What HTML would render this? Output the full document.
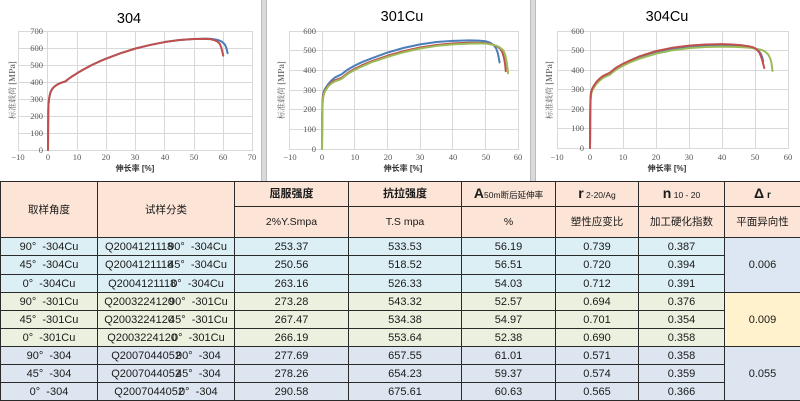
<!DOCTYPE html>
<html><head><meta charset="utf-8">
<style>
html,body{margin:0;padding:0;background:#fff;}
body{width:800px;height:401px;position:relative;overflow:hidden;font-family:"Liberation Sans","Noto Sans CJK SC",sans-serif;}
svg{position:absolute;left:0;top:0;}
table{position:absolute;left:0;top:181px;width:800px;height:220px;border-collapse:collapse;table-layout:fixed;font-size:11px;color:#1a1a1a;}
td{border:1px solid #2a2a2a;padding:0;text-align:center;vertical-align:middle;white-space:nowrap;overflow:hidden;line-height:12px;}
.h td{background:#fce4d6;font-size:10.5px;}
.g1 td{background:#dcEff5;}
.g2 td{background:#ecf1df;}
.g3 td{background:#dde6f0;}
td.d1{background:#dde7f3 !important;}
td.d2{background:#fff2cc !important;}
td.d3{background:#dde6f0 !important;}
.h td.b{font-weight:bold;font-size:11px;}
.big{font-size:14px;font-weight:bold;}
.sm{font-size:8.5px;}
.ov{margin-left:-5px;}
</style></head><body>
<svg width="800" height="181" viewBox="0 0 800 181" font-family="Liberation Serif, serif">
  <rect x="0" y="0" width="800" height="181" fill="#fff"/>
  <rect x="261" y="0" width="6" height="181" fill="#dadada"/>
  <line x1="261.5" y1="0" x2="261.5" y2="181" stroke="#bcbcbc"/>
  <line x1="266.5" y1="0" x2="266.5" y2="181" stroke="#bcbcbc"/>
  <rect x="530" y="0" width="6" height="181" fill="#dadada"/>
  <line x1="530.5" y1="0" x2="530.5" y2="181" stroke="#bcbcbc"/>
  <line x1="535.5" y1="0" x2="535.5" y2="181" stroke="#bcbcbc"/>

  <!-- Chart 1 -->
  <g stroke="#d9d9d9" stroke-width="1">
    <line x1="18.5" y1="31" x2="18.5" y2="150"/><line x1="47.5" y1="31" x2="47.5" y2="150"/>
    <line x1="77.5" y1="31" x2="77.5" y2="150"/><line x1="106.5" y1="31" x2="106.5" y2="150"/>
    <line x1="135.5" y1="31" x2="135.5" y2="150"/><line x1="164.5" y1="31" x2="164.5" y2="150"/>
    <line x1="194.5" y1="31" x2="194.5" y2="150"/><line x1="223.5" y1="31" x2="223.5" y2="150"/>
    <line x1="252.5" y1="31" x2="252.5" y2="150"/>
    <line x1="18" y1="31.5" x2="253" y2="31.5"/><line x1="18" y1="48.5" x2="253" y2="48.5"/>
    <line x1="18" y1="65.5" x2="253" y2="65.5"/><line x1="18" y1="82.5" x2="253" y2="82.5"/>
    <line x1="18" y1="99.5" x2="253" y2="99.5"/><line x1="18" y1="116.5" x2="253" y2="116.5"/>
    <line x1="18" y1="133.5" x2="253" y2="133.5"/><line x1="18" y1="150.5" x2="253" y2="150.5"/>
  </g>
  <g font-size="8.5" fill="#595959" text-anchor="end">
    <text x="43" y="34">700</text><text x="43" y="51">600</text><text x="43" y="68">500</text>
    <text x="43" y="85">400</text><text x="43" y="102">300</text><text x="43" y="119">200</text>
    <text x="43" y="136">100</text><text x="43" y="153">0</text>
  </g>
  <g font-size="8.5" fill="#595959" text-anchor="middle">
    <text x="18" y="160">−10</text><text x="48" y="160">0</text><text x="77" y="160">10</text>
    <text x="106" y="160">20</text><text x="135" y="160">30</text><text x="165" y="160">40</text>
    <text x="194" y="160">50</text><text x="223" y="160">60</text><text x="252" y="160">70</text>
  </g>
  <text x="129" y="23" font-family="Liberation Sans, sans-serif" font-size="14.5" text-anchor="middle" fill="#000">304</text>
  <text x="135" y="171" font-family="Liberation Sans, Noto Sans CJK SC, sans-serif" font-size="8" font-weight="bold" text-anchor="middle" fill="#333">伸长率 [%]</text>
  <text transform="translate(15,90) rotate(-90)" font-family="Noto Serif CJK SC, serif" font-size="8" text-anchor="middle" fill="#666">标准载荷 <tspan font-weight="bold">[MPa]</tspan></text>
  <g transform="translate(48,150) scale(2.92,-0.17)" fill="none" stroke-width="2" stroke-linejoin="round" stroke-linecap="round">
    <path vector-effect="non-scaling-stroke" stroke="#4a7ebb" d="M0,0 L0.05,150 L0.1,230 L0.2,275 L0.4,305 L0.7,330 L1,345 L1.5,360 L2,370 L3,383 L4,392 L5,398 L6,404 L7,418 L8,430 L10,452 L12,472 L15,500 L18,524 L20,538 L25,570 L30,597 L35,618 L40,635 L45,647 L50,653 L54,655 L56,654 L58,648 L59.5,638 L60.5,622 L61,605 L61.3,585 L61.5,570"/>
    <path vector-effect="non-scaling-stroke" stroke="#c0504d" d="M0,0 L0.05,150 L0.1,230 L0.2,275 L0.4,305 L0.7,330 L1,345 L1.5,360 L2,370 L3,383 L4,392 L5,398 L6,404 L7,418 L8,430 L10,452 L12,472 L15,500 L18,524 L20,538 L25,570 L30,597 L35,618 L40,635 L45,647 L50,653 L54,654 L55.5,652 L57,646 L58,638 L58.8,625 L59.3,605 L59.6,585 L59.9,565 L60,555"/>
  </g>

  <!-- Chart 2 -->
  <g stroke="#d9d9d9" stroke-width="1">
    <line x1="289.5" y1="31" x2="289.5" y2="149"/><line x1="322.5" y1="31" x2="322.5" y2="149"/>
    <line x1="354.5" y1="31" x2="354.5" y2="149"/><line x1="387.5" y1="31" x2="387.5" y2="149"/>
    <line x1="420.5" y1="31" x2="420.5" y2="149"/><line x1="452.5" y1="31" x2="452.5" y2="149"/>
    <line x1="485.5" y1="31" x2="485.5" y2="149"/><line x1="518.5" y1="31" x2="518.5" y2="149"/>
    <line x1="289" y1="31.5" x2="519" y2="31.5"/><line x1="289" y1="50.5" x2="519" y2="50.5"/>
    <line x1="289" y1="70.5" x2="519" y2="70.5"/><line x1="289" y1="90.5" x2="519" y2="90.5"/>
    <line x1="289" y1="109.5" x2="519" y2="109.5"/><line x1="289" y1="129.5" x2="519" y2="129.5"/>
    <line x1="289" y1="149.5" x2="519" y2="149.5"/>
  </g>
  <g font-size="8.5" fill="#595959" text-anchor="end">
    <text x="316" y="34">600</text><text x="316" y="53">500</text><text x="316" y="73">400</text>
    <text x="316" y="93">300</text><text x="316" y="112">200</text><text x="316" y="132">100</text>
    <text x="316" y="152">0</text>
  </g>
  <g font-size="8.5" fill="#595959" text-anchor="middle">
    <text x="290" y="160">−10</text><text x="322" y="160">0</text><text x="355" y="160">10</text>
    <text x="388" y="160">20</text><text x="420" y="160">30</text><text x="453" y="160">40</text>
    <text x="486" y="160">50</text><text x="518" y="160">60</text>
  </g>
  <text x="402" y="21" font-family="Liberation Sans, sans-serif" font-size="14.5" text-anchor="middle" fill="#000">301Cu</text>
  <text x="403" y="171" font-family="Liberation Sans, Noto Sans CJK SC, sans-serif" font-size="8" font-weight="bold" text-anchor="middle" fill="#333">伸长率 [%]</text>
  <text transform="translate(284,90) rotate(-90)" font-family="Noto Serif CJK SC, serif" font-size="8" text-anchor="middle" fill="#666">标准载荷 <tspan font-weight="bold">[MPa]</tspan></text>
  <g transform="translate(322,149) scale(3.27,-0.1967)" fill="none" stroke-width="2" stroke-linejoin="round" stroke-linecap="round">
    <path vector-effect="non-scaling-stroke" stroke="#4a7ebb" d="M0,0 L0.05,150 L0.15,240 L0.3,275 L0.6,295 L1,308 L1.5,320 L2,332 L3,350 L4,364 L5,372 L6,380 L7,393 L8,405 L10,424 L12,440 L15,460 L20,490 L25,514 L30,532 L35,544 L40,550 L45,552 L48,551 L50,548 L51.5,540 L52.5,528 L53.3,510 L53.8,485 L54.1,460 L54.3,440"/>
    <path vector-effect="non-scaling-stroke" stroke="#c0504d" d="M0,0 L0.05,150 L0.15,235 L0.3,268 L0.6,288 L1,300 L1.5,312 L2,324 L3,340 L4,350 L5,356 L6,362 L7,375 L8,388 L10,408 L12,424 L15,445 L20,474 L25,498 L30,516 L35,529 L40,537 L45,540 L48,540 L50,538 L52,532 L53.5,522 L54.5,510 L55.2,490 L55.7,460 L56,430 L56.2,395"/>
    <path vector-effect="non-scaling-stroke" stroke="#9bbb59" d="M0,0 L0.05,100 L0.1,170 L0.2,230 L0.4,265 L0.7,285 L1,296 L1.5,308 L2,320 L3,335 L4,344 L5,350 L6,357 L7,370 L8,383 L10,402 L12,418 L15,440 L20,468 L25,492 L30,511 L35,524 L40,532 L45,536 L48,537 L50,536 L52,531 L53.5,524 L54.5,515 L55.5,500 L56,480 L56.4,450 L56.7,415 L56.9,385"/>
  </g>

  <!-- Chart 3 -->
  <g stroke="#d9d9d9" stroke-width="1">
    <line x1="557.5" y1="31" x2="557.5" y2="148"/><line x1="590.5" y1="31" x2="590.5" y2="148"/>
    <line x1="623.5" y1="31" x2="623.5" y2="148"/><line x1="656.5" y1="31" x2="656.5" y2="148"/>
    <line x1="689.5" y1="31" x2="689.5" y2="148"/><line x1="722.5" y1="31" x2="722.5" y2="148"/>
    <line x1="755.5" y1="31" x2="755.5" y2="148"/><line x1="788.5" y1="31" x2="788.5" y2="148"/>
    <line x1="557" y1="31.5" x2="789" y2="31.5"/><line x1="557" y1="50.5" x2="789" y2="50.5"/>
    <line x1="557" y1="70.5" x2="789" y2="70.5"/><line x1="557" y1="89.5" x2="789" y2="89.5"/>
    <line x1="557" y1="109.5" x2="789" y2="109.5"/><line x1="557" y1="128.5" x2="789" y2="128.5"/>
    <line x1="557" y1="148.5" x2="789" y2="148.5"/>
  </g>
  <g font-size="8.5" fill="#595959" text-anchor="end">
    <text x="584" y="34">600</text><text x="584" y="53">500</text><text x="584" y="73">400</text>
    <text x="584" y="92">300</text><text x="584" y="112">200</text><text x="584" y="131">100</text>
    <text x="584" y="151">0</text>
  </g>
  <g font-size="8.5" fill="#595959" text-anchor="middle">
    <text x="557" y="160">−10</text><text x="590" y="160">0</text><text x="623" y="160">10</text>
    <text x="656" y="160">20</text><text x="689" y="160">30</text><text x="722" y="160">40</text>
    <text x="755" y="160">50</text><text x="788" y="160">60</text>
  </g>
  <text x="667" y="21" font-family="Liberation Sans, sans-serif" font-size="14.5" text-anchor="middle" fill="#000">304Cu</text>
  <text x="667" y="171" font-family="Liberation Sans, Noto Sans CJK SC, sans-serif" font-size="8" font-weight="bold" text-anchor="middle" fill="#333">伸长率 [%]</text>
  <text transform="translate(552,90) rotate(-90)" font-family="Noto Serif CJK SC, serif" font-size="8" text-anchor="middle" fill="#666">标准载荷 <tspan font-weight="bold">[MPa]</tspan></text>
  <g transform="translate(590,148) scale(3.3,-0.195)" fill="none" stroke-width="2" stroke-linejoin="round" stroke-linecap="round">
    <path vector-effect="non-scaling-stroke" stroke="#4a7ebb" d="M0,0 L0.05,150 L0.15,250 L0.3,280 L0.6,298 L1,310 L1.5,323 L2,335 L3,352 L4,365 L5,373 L6,381 L7,395 L8,408 L10,427 L12,443 L15,464 L20,490 L25,508 L30,519 L35,525 L40,527 L45,523 L48,518 L50,510 L51,500 L51.7,485 L52.2,465 L52.5,445"/>
    <path vector-effect="non-scaling-stroke" stroke="#9bbb59" d="M0,0 L0.05,60 L0.1,180 L0.2,250 L0.4,280 L0.7,295 L1,305 L1.5,318 L2,330 L3,347 L4,360 L5,368 L6,376 L7,390 L8,403 L10,422 L12,438 L15,458 L20,484 L25,501 L30,512 L35,518 L40,520 L45,518 L48,515 L50,511 L52,503 L53,495 L54,480 L54.6,460 L55,435 L55.3,395"/>
    <path vector-effect="non-scaling-stroke" stroke="#c0504d" d="M0,0 L0.05,150 L0.15,255 L0.3,285 L0.6,302 L1,315 L1.5,328 L2,340 L3,357 L4,370 L5,378 L6,386 L7,400 L8,413 L10,432 L12,448 L15,470 L20,497 L25,514 L30,525 L35,531 L40,533 L43,531 L46,527 L48,522 L49.5,516 L50.5,505 L51.3,490 L51.8,470 L52.2,450 L52.5,430 L52.8,410"/>
  </g>
</svg>

<table>
<colgroup>
<col style="width:97px"><col style="width:137px"><col style="width:114px"><col style="width:113px"><col style="width:94px"><col style="width:83px"><col style="width:86px"><col style="width:76px">
</colgroup>
<tr class="h" style="height:25px">
  <td rowspan="2">取样角度</td>
  <td rowspan="2">试样分类</td>
  <td class="b">屈服强度</td>
  <td class="b">抗拉强度</td>
  <td><span class="big">A</span><span class="sm">50m断后延伸率</span></td>
  <td><span class="big">r</span><span class="sm"> 2-20/Ag</span></td>
  <td><span class="big">n</span><span class="sm"> 10 - 20</span></td>
  <td><span class="big">Δ</span> <span style="font-size:10px;font-weight:bold">r</span></td>
</tr>
<tr class="h" style="height:31px">
  <td>2%Y.Smpa</td><td>T.S mpa</td><td>%</td><td>塑性应变比</td><td>加工硬化指数</td><td>平面异向性</td>
</tr>
<tr class="g1" style="height:18px"><td>90°&nbsp; -304Cu</td><td>Q2004121118<span class="ov">90°&nbsp; -304Cu</span></td><td>253.37</td><td>533.53</td><td>56.19</td><td>0.739</td><td>0.387</td><td rowspan="3" class="d1">0.006</td></tr>
<tr class="g1" style="height:19px"><td>45°&nbsp; -304Cu</td><td>Q2004121118<span class="ov">45°&nbsp; -304Cu</span></td><td>250.56</td><td>518.52</td><td>56.51</td><td>0.720</td><td>0.394</td></tr>
<tr class="g1" style="height:18px"><td>0°&nbsp; -304Cu</td><td>Q2004121118<span class="ov">0°&nbsp; -304Cu</span></td><td>263.16</td><td>526.33</td><td>54.03</td><td>0.712</td><td>0.391</td></tr>
<tr class="g2" style="height:18px"><td>90°&nbsp; -301Cu</td><td>Q2003224120<span class="ov">90°&nbsp; -301Cu</span></td><td>273.28</td><td>543.32</td><td>52.57</td><td>0.694</td><td>0.376</td><td rowspan="3" class="d2">0.009</td></tr>
<tr class="g2" style="height:18px"><td>45°&nbsp; -301Cu</td><td>Q2003224120<span class="ov">45°&nbsp; -301Cu</span></td><td>267.47</td><td>534.38</td><td>54.97</td><td>0.701</td><td>0.354</td></tr>
<tr class="g2" style="height:18px"><td>0°&nbsp; -301Cu</td><td>Q2003224120<span class="ov">0°&nbsp; -301Cu</span></td><td>266.19</td><td>553.64</td><td>52.38</td><td>0.690</td><td>0.358</td></tr>
<tr class="g3" style="height:18px"><td>90°&nbsp; -304</td><td>Q2007044052<span class="ov">90°&nbsp; -304</span></td><td>277.69</td><td>657.55</td><td>61.01</td><td>0.571</td><td>0.358</td><td rowspan="3" class="d3">0.055</td></tr>
<tr class="g3" style="height:18px"><td>45°&nbsp; -304</td><td>Q2007044052<span class="ov">45°&nbsp; -304</span></td><td>278.26</td><td>654.23</td><td>59.37</td><td>0.574</td><td>0.359</td></tr>
<tr class="g3" style="height:18px"><td>0°&nbsp; -304</td><td>Q2007044052<span class="ov">0°&nbsp; -304</span></td><td>290.58</td><td>675.61</td><td>60.63</td><td>0.565</td><td>0.366</td></tr>
</table>
</body></html>
